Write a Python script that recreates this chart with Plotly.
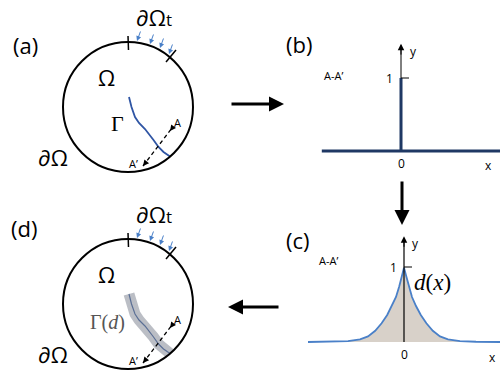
import plotly.graph_objects as go

# ---------------- data ----------------
# crack path Γ in panel (a) (diagram pixel units)
crack_x = [129, 131.5, 135, 139, 145, 150, 153.5, 158.5, 163.5, 170]
crack_y = [97, 107, 117, 123, 129, 135, 140, 147, 152, 156.5]
# section A-A' (dashed) end points
sec_x = [143, 172]
sec_y = [166, 128]
# panel (b): sharp crack profile along A-A'
b_x = [-0.99, 0, 0, 0, 1.24]
b_y = [0, 0, 1, 0, 0]
# panel (c): smeared profile d(x)
c_x = [-1.2, -0.9, -0.7, -0.55, -0.45, -0.36, -0.28, -0.21, -0.15, -0.1, -0.06, -0.03, 0,
       0.03, 0.06, 0.1, 0.15, 0.21, 0.28, 0.36, 0.45, 0.55, 0.7, 0.9, 1.2]
c_y = [0, 0.003, 0.012, 0.035, 0.075, 0.15, 0.25, 0.36, 0.48, 0.6, 0.74, 0.87, 0.99,
       0.87, 0.74, 0.6, 0.48, 0.36, 0.25, 0.15, 0.075, 0.035, 0.012, 0.003, 0]

SANS = "Open Sans"
SERIF = "Liberation Serif"
BLUE = "#4a80c8"
NAVY = "#1F3864"

fig = go.Figure()
shapes = []
ann = []

def txt(x, y, s, size, ref=("x", "y"), color="black", family=SANS, xanchor="center"):
    ann.append(dict(x=x, y=y, xref=ref[0], yref=ref[1], text=s, showarrow=False,
                    font=dict(size=size, color=color, family=family), xanchor=xanchor,
                    yanchor="middle"))

def arrow(x0, y0, x1, y1, width=1, color="black", head=2, size=1.0, ref=("x", "y")):
    ann.append(dict(x=x1, y=y1, ax=x0, ay=y0, xref=ref[0], yref=ref[1],
                    axref=ref[0], ayref=ref[1], text="", showarrow=True,
                    arrowhead=head, arrowwidth=width, arrowcolor=color, arrowsize=size))

# ---------------- panels (a) and (d) ----------------
for dy, smeared in [(0, False), (197, True)]:
    cx, cy, r = 128, 107 + dy, 65
    shapes.append(dict(type="circle", xref="x", yref="y", x0=cx - r, x1=cx + r,
                       y0=cy - r, y1=cy + r, line=dict(color="black", width=2)))
    # boundary ticks of ∂Ωt
    shapes.append(dict(type="line", xref="x", yref="y", x0=128, x1=128.5,
                       y0=36 + dy, y1=50 + dy, line=dict(color="black", width=1.5)))
    shapes.append(dict(type="line", xref="x", yref="y", x0=166, x1=176,
                       y0=62 + dy, y1=50 + dy, line=dict(color="black", width=1.5)))
    # traction arrows
    for tx, ty in [(137, 41), (150, 44), (160, 48), (169, 54)]:
        arrow(tx + 4, ty - 11 + dy, tx, ty + dy, width=1, color=BLUE, head=2, size=1.0)
    cyy = [v + dy for v in crack_y]
    if smeared:
        fig.add_trace(go.Scatter(x=crack_x, y=cyy, mode="lines", xaxis="x", yaxis="y",
                                 line=dict(color="rgba(120,125,140,0.5)", width=11),
                                 hoverinfo="skip", showlegend=False))
        fig.add_trace(go.Scatter(x=crack_x, y=cyy, mode="lines", xaxis="x", yaxis="y",
                                 line=dict(color="#5b6f95", width=1.2),
                                 hoverinfo="skip", showlegend=False))
        txt(107, 322, "Γ(<i>d</i>)", 20, color="#555555", family=SERIF)
    else:
        fig.add_trace(go.Scatter(x=crack_x, y=cyy, mode="lines", xaxis="x", yaxis="y",
                                 line=dict(color="#2f55a4", width=1.8),
                                 hoverinfo="skip", showlegend=False))
        txt(117, 123, "Γ", 22, family=SERIF)
    # section line A-A'
    syy = [v + dy for v in sec_y]
    fig.add_trace(go.Scatter(x=sec_x, y=syy, mode="lines", xaxis="x", yaxis="y",
                             line=dict(color="black", width=1.3, dash="4px,3px"),
                             hoverinfo="skip", showlegend=False))
    arrow(sec_x[0] + 4, syy[0] - 5, sec_x[0], syy[0], width=1.2, head=2, size=1.0)
    arrow(sec_x[1] + 1, syy[1] - 1, sec_x[1] - 2, syy[1] + 3, width=1.2, head=2, size=1.0)
    txt(177, 122 + dy, "A", 11)
    txt(133, 163 + dy, "A’", 11)
    txt(106, 77 + dy, "Ω", 22)
    txt(53, 157 + dy, "∂Ω", 22)
    txt(154, 17 + dy, "∂Ω<span style='font-size:17px'>t</span>", 22)

txt(25, 45, "(a)", 22)
txt(24, 228, "(d)", 22)
txt(299, 44, "(b)", 22)
txt(298, 240, "(c)", 22)

# big arrows between panels
arrow(230, 104, 284, 104, width=3, head=2, size=1)
arrow(280, 307, 228, 307, width=3, head=2, size=1)
arrow(402, 180, 402, 225, width=3, head=2, size=1)

# ---------------- panel (b) ----------------
R2 = ("x2", "y2")
fig.add_trace(go.Scatter(x=[0, 0], y=[0, 1.42], mode="lines", xaxis="x2", yaxis="y2",
                         line=dict(color="black", width=1), hoverinfo="skip",
                         showlegend=False))
arrow(0, 1.3, 0, 1.47, width=1, head=2, size=1.3, ref=R2)
fig.add_trace(go.Scatter(x=b_x, y=b_y, mode="lines", xaxis="x2", yaxis="y2",
                         line=dict(color=NAVY, width=3), hoverinfo="skip",
                         showlegend=False))
fig.add_trace(go.Scatter(x=[0, 0.1], y=[1, 1], mode="lines", xaxis="x2", yaxis="y2",
                         line=dict(color="black", width=1), hoverinfo="skip",
                         showlegend=False))
txt(-0.14, 1.0, "1", 12, ref=R2)
txt(0.16, 1.36, "y", 12, ref=R2)
txt(0, -0.17, "0", 12, ref=R2)
txt(1.09, -0.2, "x", 12, ref=R2)
txt(-0.84, 1.04, "A-A’", 11, ref=R2)

# ---------------- panel (c) ----------------
R3 = ("x3", "y3")
fig.add_trace(go.Scatter(x=c_x, y=c_y, mode="lines", xaxis="x3", yaxis="y3",
                         fill="tozeroy", fillcolor="#d8d1c9",
                         line=dict(color=BLUE, width=1.8), hoverinfo="skip",
                         showlegend=False))
fig.add_trace(go.Scatter(x=[0, 0], y=[0, 1.36], mode="lines", xaxis="x3", yaxis="y3",
                         line=dict(color="black", width=1.2), hoverinfo="skip",
                         showlegend=False))
arrow(0, 1.25, 0, 1.41, width=1, head=2, size=1.3, ref=R3)
fig.add_trace(go.Scatter(x=[0, 0.1], y=[1, 1], mode="lines", xaxis="x3", yaxis="y3",
                         line=dict(color="black", width=1), hoverinfo="skip",
                         showlegend=False))
txt(-0.13, 1.0, "1", 12, ref=R3)
txt(0.14, 1.32, "y", 12, ref=R3)
txt(0, -0.17, "0", 12, ref=R3)
txt(1.1, -0.2, "x", 12, ref=R3)
txt(0.36, 0.79, "<i>d</i>(<i>x</i>)", 23, ref=R3, family=SERIF)
txt(-0.95, 1.09, "A-A’", 11, ref=R3)

ax_off = dict(visible=False, showgrid=False, zeroline=False, fixedrange=True)
fig.update_layout(
    width=500, height=374, margin=dict(l=0, r=0, t=0, b=0),
    paper_bgcolor="white", plot_bgcolor="rgba(0,0,0,0)",
    xaxis=dict(range=[0, 500], domain=[0, 1], **ax_off),
    yaxis=dict(range=[374, 0], domain=[0, 1], **ax_off),
    xaxis2=dict(range=[-1.2625, 1.2375], domain=[0.6, 1.0], anchor="y2", **ax_off),
    yaxis2=dict(range=[-0.534, 1.6575], domain=[1 - 190 / 374, 1 - 30 / 374],
                anchor="x2", **ax_off),
    xaxis3=dict(range=[-1.3, 1.2], domain=[0.6, 1.0], anchor="y3", **ax_off),
    yaxis3=dict(range=[-0.4267, 1.56], domain=[0, 1 - 225 / 374], anchor="x3", **ax_off),
    shapes=shapes, annotations=ann, showlegend=False,
)
fig.write_html("out.html", config={"displayModeBar": False},
               post_script="document.body.style.margin='0';document.body.style.padding='0';")
